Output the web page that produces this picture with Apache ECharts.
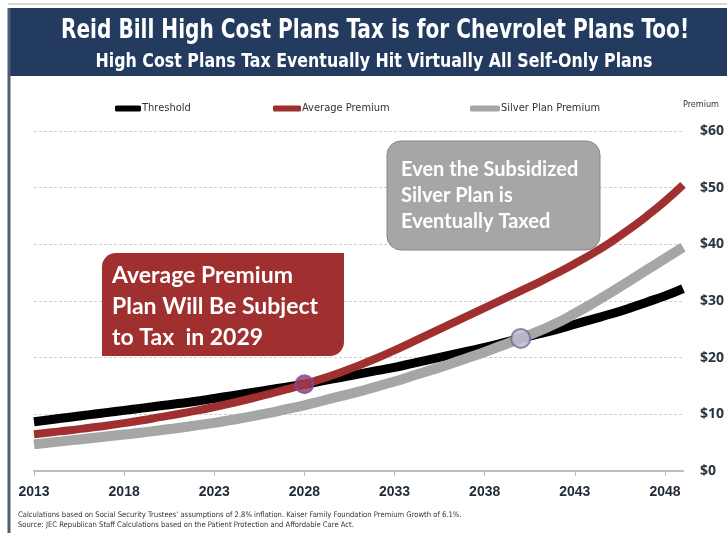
<!DOCTYPE html>
<html>
<head>
<meta charset="utf-8">
<script src="https://cdn.jsdelivr.net/npm/echarts@6/dist/echarts.min.js"></script>
<style>
html,body{margin:0;padding:0;background:#fff;}
#c{width:727px;height:533px;}
</style>
</head>
<body>
<div id="c"></div>
<script>
const years = [2013,2014,2015,2016,2017,2018,2019,2020,2021,2022,2023,2024,2025,2026,2027,2028,2029,2030,2031,2032,2033,2034,2035,2036,2037,2038,2039,2040,2041,2042,2043,2044,2045,2046,2047,2048,2049];
const threshold = [8.7,9.1,9.5,9.9,10.3,10.7,11.1,11.5,11.9,12.3,12.8,13.3,13.8,14.3,14.8,15.3,15.9,16.5,17.1,17.7,18.3,19.0,19.7,20.4,21.1,21.8,22.6,23.4,24.2,25.0,25.9,26.8,27.7,28.7,29.8,30.9,32.2];
const averagePremium = [6.5,6.85,7.2,7.6,8.0,8.45,8.95,9.5,10.05,10.65,11.3,12.0,12.75,13.55,14.4,15.3,16.3,17.4,18.6,19.9,21.3,22.8,24.3,25.8,27.3,28.8,30.3,31.8,33.3,34.9,36.6,38.4,40.4,42.6,45.0,47.6,50.5];
const silverPremium = [4.7,5.05,5.4,5.75,6.1,6.45,6.8,7.2,7.6,8.05,8.5,9.05,9.6,10.2,10.9,11.6,12.4,13.2,14.0,14.9,15.8,16.8,17.8,18.8,19.9,21.0,22.2,23.4,24.7,26.1,27.8,29.6,31.5,33.5,35.5,37.5,39.5];
const crossingAvgYear = '2028', crossingAvgValue = 15.3;
const crossingSilverYear = '2040', crossingSilverValue = 23.4;

const narrow = "'Liberation Sans Narrow','DejaVu Sans Condensed','Liberation Sans',sans-serif";
const chart = echarts.init(document.getElementById('c'), null, {renderer:'canvas'});
const cats = years.map(String);
chart.setOption({
  backgroundColor:'#ffffff',
  animation:false,
  grid:{left:34,right:44,top:131,bottom:62},
  legend:[
    {data:['Threshold'],left:110,top:98,itemWidth:26,itemHeight:6,itemGap:0,icon:'roundRect',textStyle:{fontFamily:narrow,fontSize:11,color:'#333',padding:[0,0,0,-4]}},
    {data:['Average Premium'],left:268,top:98,itemWidth:28,itemHeight:6,icon:'roundRect',textStyle:{fontFamily:narrow,fontSize:11,color:'#333',padding:[0,0,0,-4]}},
    {data:['Silver Plan Premium'],left:465,top:98,itemWidth:30,itemHeight:6,icon:'roundRect',textStyle:{fontFamily:narrow,fontSize:11,color:'#333',padding:[0,0,0,-4]}}
  ],
  xAxis:{
    type:'category',data:cats,boundaryGap:false,
    axisLine:{lineStyle:{color:'#bdbdbd',width:2}},
    axisTick:{interval:4,length:5,lineStyle:{color:'#bdbdbd'}},
    axisLabel:{interval:4,margin:14,fontFamily:"'Liberation Sans','Noto Sans',sans-serif",fontWeight:'bold',fontSize:14,color:'#1f2a36'},
    splitLine:{show:false}
  },
  yAxis:{
    type:'value',position:'right',min:0,max:60,interval:10,
    name:'Premium',nameLocation:'end',nameGap:22,
    nameTextStyle:{fontFamily:narrow,fontSize:9,color:'#333',align:'left'},
    axisLine:{show:false},axisTick:{show:false},
    axisLabel:{margin:17,formatter:v=>'$'+v,fontFamily:"'Open Sans','Liberation Sans',sans-serif",fontWeight:'bold',fontSize:14,color:'#2a3542'},
    splitLine:{lineStyle:{color:'#cfcfcf',type:[3,2],width:1}}
  },
  series:[
    {name:'Threshold',type:'line',data:threshold,smooth:true,symbol:'none',color:'#000000',lineStyle:{width:9,color:'#000000',cap:'butt'},z:2},
    {name:'Silver Plan Premium',type:'line',data:silverPremium,smooth:true,symbol:'none',color:'#a6a6a6',lineStyle:{width:10,color:'#a6a6a6',cap:'butt'},z:3},
    {name:'Average Premium',type:'line',data:averagePremium,smooth:true,symbol:'none',color:'#a0302f',lineStyle:{width:8,color:'#a0302f',cap:'butt'},z:4},
    {name:'crossA',type:'scatter',data:[[crossingAvgYear,crossingAvgValue]],symbolSize:18,itemStyle:{color:'#963a55',borderColor:'#7a4fa8',borderWidth:2},z:10},
    {name:'crossS',type:'scatter',data:[[crossingSilverYear,crossingSilverValue]],symbolSize:19,itemStyle:{color:'#bdb9cf',borderColor:'#6d6a9e',borderWidth:2},z:10}
  ],
  graphic:[
    {type:'rect',shape:{x:8,y:8,width:719,height:68},style:{fill:'#223b5f'},z:100},
    {type:'line',shape:{x1:8,y1:4,x2:727,y2:4},style:{stroke:'#d8d8d8',lineWidth:2},z:100},
    {type:'line',shape:{x1:9,y1:8,x2:9,y2:533},style:{stroke:'#4d5d73',lineWidth:3},z:100},
    {type:'text',x:375,y:31,scaleX:0.86,style:{text:'Reid Bill High Cost Plans Tax is for Chevrolet Plans Too!',fill:'#fff',font:"bold 26px "+narrow,textAlign:'center',textVerticalAlign:'middle'},z:101},
    {type:'text',x:374,y:62,scaleX:0.88,style:{text:'High Cost Plans Tax Eventually Hit Virtually All Self-Only Plans',fill:'#fff',font:"bold 20px "+narrow,textAlign:'center',textVerticalAlign:'middle'},z:101},
    {type:'rect',shape:{x:102,y:253,width:242,height:103,r:[14,0,14,0]},style:{fill:'#a0302f'},z:50},
    {type:'text',x:112,y:260,style:{text:'Average Premium\nPlan Will Be Subject\nto Tax  in 2029',fill:'#fff',font:"bold 23px Lato,'Open Sans',sans-serif",lineHeight:31},z:51},
    {type:'rect',shape:{x:387,y:141,width:213,height:109,r:14},style:{fill:'#a6a6a6',stroke:'#7d8797',lineWidth:1},z:50},
    {type:'text',x:401,y:157,style:{text:'Even the Subsidized\nSilver Plan is\nEventually Taxed',fill:'#fff',font:"bold 20px Lato,'Open Sans',sans-serif",lineHeight:26},z:51},
    {type:'text',x:18,y:511,style:{text:"Calculations based on Social Security Trustees' assumptions of 2.8% inflation. Kaiser Family Foundation Premium Growth of 6.1%.",fill:'#333',font:"7.6px "+narrow},z:51},
    {type:'text',x:18,y:521,style:{text:'Source: JEC Republican Staff Calculations based on the Patient Protection and Affordable Care Act.',fill:'#333',font:"7.6px "+narrow},z:51}
  ]
});
</script>
</body>
</html>
